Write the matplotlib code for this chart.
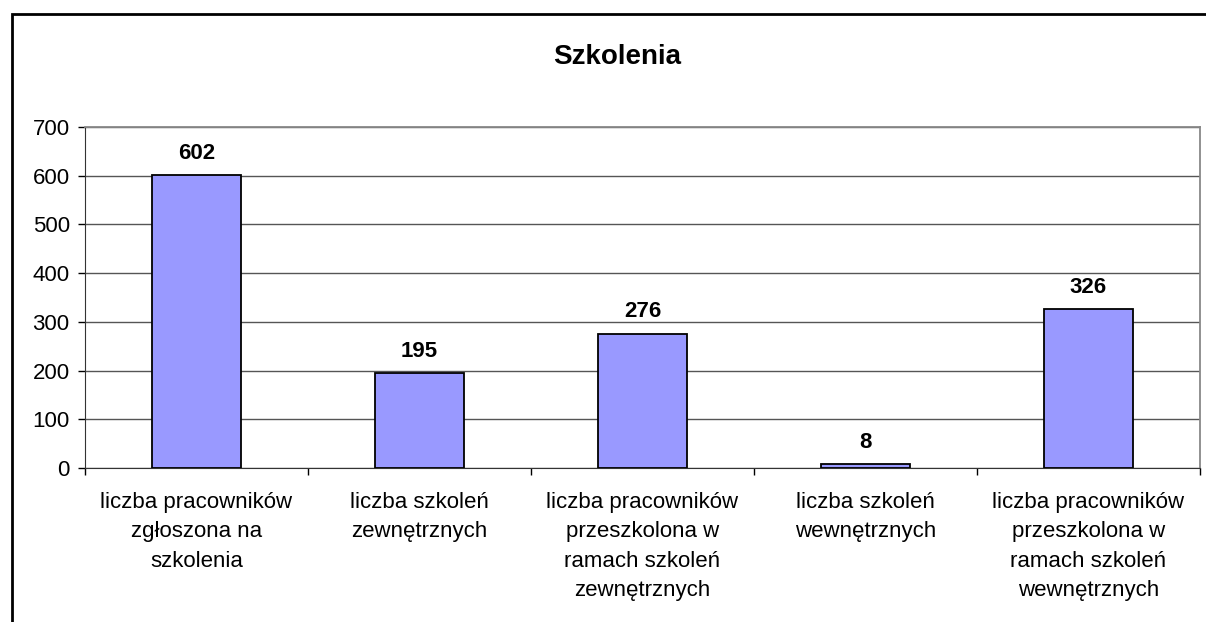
import numpy as np
import matplotlib.pyplot as plt
from matplotlib.patches import Rectangle

plt.rcParams['font.family'] = ['Liberation Sans', 'DejaVu Sans']

categories = [
    'liczba pracowników\nzgłoszona na\nszkolenia',
    'liczba szkoleń\nzewnętrznych',
    'liczba pracowników\nprzeszkolona w\nramach szkoleń\nzewnętrznych',
    'liczba szkoleń\nwewnętrznych',
    'liczba pracowników\nprzeszkolona w\nramach szkoleń\nwewnętrznych',
]
values = [602, 195, 276, 8, 326]
y_ticks = [0, 100, 200, 300, 400, 500, 600, 700]

W, H = 1206, 622
fig = plt.figure(figsize=(W / 100, H / 100), dpi=100)

# outer frame of the chart (right and bottom edges are cut off)
fig.patches.append(Rectangle((12 / W, -0.1), 1.2, 1 - 14 / H + 0.1,
                             transform=fig.transFigure, fill=False,
                             edgecolor='black', linewidth=2))

ax = fig.add_axes([85 / W, 1 - 468 / H, (1200 - 85) / W, (468 - 127) / H])

x = np.arange(len(values))
ax.bar(x, values, width=0.4, color='#9999FF', edgecolor='black', linewidth=1.3, zorder=3)

for xi, v in zip(x, values):
    ax.annotate(str(v), (xi, v), xytext=(0, 8), textcoords='offset points',
                ha='center', va='bottom', fontsize=16, fontweight='bold')

ax.set_xlim(-0.5, len(values) - 0.5)
ax.set_ylim(0, 700)
ax.set_yticks(y_ticks)
ax.tick_params(axis='y', labelsize=16, length=5, width=1, direction='out', pad=6)
ax.yaxis.grid(True, color='#555555', linewidth=1)
ax.set_axisbelow(True)

ax.set_xticks(x)
ax.set_xticklabels(categories, fontsize=16, linespacing=1.53)
ax.tick_params(axis='x', length=0, pad=17)
ax.set_xticks(np.arange(-0.5, len(values)), minor=True)
ax.tick_params(axis='x', which='minor', length=5, width=1, direction='out')

for s in ['top', 'right']:
    ax.spines[s].set_color('#888888')
    ax.spines[s].set_linewidth(1.3)
ax.spines['left'].set_color('#333333')
ax.spines['bottom'].set_color('#333333')

fig.text(617 / W, 1 - 57 / H, 'Szkolenia', ha='center', va='center',
         fontsize=20, fontweight='bold')

fig.savefig('out.png', dpi=100)
